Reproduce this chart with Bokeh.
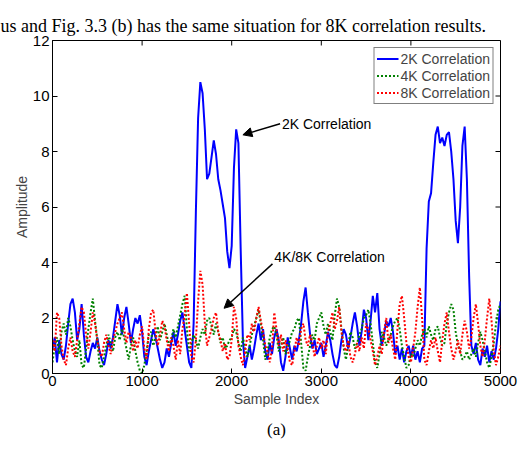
from bokeh.plotting import figure
from bokeh.models import (Title, Legend, LegendItem, Arrow, NormalHead,
                          Label, FixedTicker)
from bokeh.embed import file_html
from bokeh.resources import INLINE

# ---------------- data ----------------
step = 25  # sample spacing of the series below
corr_2k = [
    0.9, 1.3, 0.4, 1.2, 0.7, 0.5, 1.0, 1.8, 2.5, 2.7, 2.2, 1.2, 1.6, 2.5, 1.4, 0.6, 0.4, 0.8, 1.1, 0.9,
    1.3, 0.8, 0.5, 0.3, 0.7, 1.2, 0.9, 1.3, 1.9, 2.5, 2.1, 1.4, 2.0, 2.4, 1.8, 1.1, 1.6, 2.0, 1.8, 2.1,
    1.5, 0.6, 0.3, 0.8, 1.2, 1.6, 1.3, 0.9, 0.5, 0.2, 0.4, 0.9, 0.6, 1.1, 1.5, 1.0, 1.4, 1.9, 2.2, 1.6,
    1.0, 0.4, 0.2, 1.8, 5.8, 9.2, 10.5, 10.1, 8.8, 7.0, 7.2, 7.8, 8.4, 7.9, 7.0, 6.6, 6.1, 5.6, 4.4, 3.8,
    4.6, 7.4, 8.8, 8.3, 4.5, 1.2, 0.2, 0.6, 1.0, 0.5, 0.9, 1.4, 1.8, 1.2, 1.6, 0.8, 0.5, 1.1, 0.7, 1.3,
    1.6, 1.2, 0.4, 0.1, 0.6, 1.3, 0.9, 0.5, 1.0, 0.8, 1.2, 1.8, 2.6, 3.1, 2.2, 1.4, 0.9, 1.2, 0.7, 0.9,
    1.1, 0.6, 1.0, 1.5, 1.2, 0.7, 0.3, 0.2, 0.6, 1.2, 1.6, 1.4, 0.9, 1.3, 1.8, 2.2, 1.7, 1.0, 1.5, 2.3,
    2.0, 1.2, 1.9, 2.8, 2.2, 2.9, 1.6, 1.0, 1.4, 1.9, 1.7, 2.0, 1.5, 0.7, 1.0, 0.5, 0.9, 0.4, 0.8, 1.0,
    0.6, 1.0, 0.5, 0.8, 0.4, 0.9, 1.0, 4.5, 6.2, 6.5, 7.6, 8.6, 8.9, 8.3, 8.5, 8.2, 8.6, 8.7, 8.0, 7.0,
    5.5, 4.7, 6.0, 8.2, 8.9, 7.0, 3.5, 1.0, 0.7, 1.1, 0.5, 0.3, 0.9, 0.6, 1.0, 0.4, 0.8, 0.5, 0.9, 1.6, 2.6,
]
corr_4k = [
    0.4, 1.0, 1.3, 0.7, 1.5, 1.8, 1.4, 2.0, 1.7, 1.2, 0.8, 0.6, 1.2, 0.3, 0.2, 0.9, 1.6, 2.2, 2.7, 1.9,
    1.2, 0.3, 0.2, 0.6, 1.0, 1.4, 1.1, 0.8, 1.3, 1.5, 1.2, 1.6, 1.3, 0.9, 0.5, 1.0, 1.3, 0.8, 0.4, 0.1,
    0.0, 0.3, 0.8, 1.4, 1.5, 1.0, 1.3, 1.7, 1.2, 1.5, 1.8, 1.4, 1.0, 1.2, 1.6, 1.3, 1.7, 2.1, 2.5, 2.8,
    1.6, 0.8, 1.1, 1.4, 1.2, 0.9, 1.3, 1.6, 1.4, 1.9, 2.0, 1.7, 1.4, 1.8, 1.5, 1.1, 1.3, 0.9, 1.0, 1.2,
    1.3, 1.6, 1.5, 1.1, 0.8, 1.3, 0.9, 0.6, 1.0, 1.4, 1.7, 2.0, 2.3, 1.8, 1.2, 0.5, 0.8, 1.3, 1.6, 1.7,
    1.4, 0.8, 1.0, 1.3, 0.7, 0.9, 1.2, 1.5, 1.6, 1.9, 2.0, 1.1, 0.2, 0.1, 0.6, 1.0, 1.4, 1.2, 1.8, 2.0,
    2.2, 1.7, 1.4, 1.8, 1.5, 1.2, 2.1, 2.7, 2.4, 1.6, 0.9, 0.5, 1.0, 1.5, 1.3, 0.9, 1.1, 1.4, 1.6, 2.0,
    2.1, 2.3, 1.8, 1.1, 0.4, 0.2, 0.7, 1.5, 1.3, 1.0, 1.2, 1.4, 1.7, 1.9, 2.0, 1.6, 1.0, 0.6, 0.2, 0.3,
    0.7, 0.6, 0.9, 1.2, 1.0, 1.4, 1.6, 1.3, 1.7, 1.4, 1.2, 1.6, 1.7, 1.3, 1.0, 1.1, 1.8, 2.2, 2.5, 2.3,
    1.5, 1.0, 0.8, 0.5, 0.6, 0.8, 0.5, 0.7, 0.9, 0.6, 1.1, 1.5, 1.2, 0.8, 0.4, 0.2, 0.6, 1.1, 1.8, 2.3, 2.5,
]
corr_8k = [
    1.2, 0.8, 2.2, 2.0, 1.0, 0.5, 0.3, 0.9, 1.3, 0.8, 0.6, 1.2, 1.8, 2.4, 2.2, 1.4, 0.9, 1.5, 2.2, 1.8,
    1.2, 0.8, 0.6, 1.1, 1.4, 1.0, 0.7, 1.2, 1.5, 1.8, 2.0, 2.2, 1.6, 1.1, 1.5, 1.3, 0.8, 1.2, 0.9, 1.4,
    1.7, 0.9, 0.5, 1.6, 2.2, 2.3, 1.5, 1.0, 1.4, 1.9, 1.7, 1.2, 0.8, 1.3, 1.0, 0.5, 1.2, 0.7, 1.6, 2.1,
    2.9, 1.8, 0.6, 0.4, 1.2, 2.6, 3.7, 3.2, 1.8, 1.0, 1.3, 1.6, 2.0, 2.2, 1.5, 1.2, 0.8, 1.1, 0.5, 0.6,
    1.2, 2.4, 2.0, 1.0, 0.6, 0.3, 0.8, 1.4, 1.2, 1.8, 1.5, 2.0, 2.4, 1.9, 1.5, 1.0, 0.8, 0.4, 0.9, 2.2,
    1.6, 1.0, 1.4, 0.8, 1.2, 0.9, 0.4, 0.3, 0.8, 1.3, 1.0, 1.6, 1.8, 1.2, 1.0, 1.4, 1.1, 0.6, 1.0, 1.3,
    0.9, 1.2, 0.7, 1.5, 1.8, 2.2, 1.6, 1.9, 2.4, 1.5, 1.0, 0.8, 1.2, 0.6, 0.4, 0.7, 1.1, 0.8, 1.3, 0.9,
    1.8, 1.6, 1.2, 0.8, 0.3, 0.6, 1.0, 0.7, 1.5, 2.0, 1.1, 1.4, 0.9, 0.5, 1.6, 2.5, 2.8, 2.0, 1.1, 0.6,
    0.4, 0.9, 1.5, 2.4, 3.1, 2.0, 0.5, 0.3, 0.8, 1.2, 0.9, 1.3, 0.8, 0.4, 1.2, 1.8, 2.2, 1.5, 0.9, 0.5,
    0.8, 1.2, 0.7, 1.4, 1.9, 1.5, 0.9, 1.3, 2.0, 2.5, 1.8, 1.0, 0.6, 1.2, 2.0, 2.7, 1.9, 0.8, 0.3, 0.6, 1.0,
]
sample_index = [i * step for i in range(len(corr_2k))]
series_names = ["2K Correlation", "4K Correlation", "8K Correlation"]
x_ticks = [0, 1000, 2000, 3000, 4000, 5000]
y_ticks = [0, 2, 4, 6, 8, 10, 12]
x_min, x_max = 0, 5000
y_min, y_max = 0, 12

FONT = "Liberation Sans"

p = figure(width=521, height=452, x_range=(x_min, x_max), y_range=(y_min, y_max),
           output_backend="svg", toolbar_location=None,
           min_border_left=52, min_border_right=21, min_border_top=40, min_border_bottom=79)
p.background_fill_color = "white"
p.border_fill_color = "white"
p.outline_line_color = "black"
p.grid.visible = False

def style_axis(ax, ticks):
    ax.ticker = FixedTicker(ticks=ticks)
    ax.major_tick_in = 5
    ax.major_tick_out = 0
    ax.minor_tick_in = 0
    ax.minor_tick_out = 0
    ax.axis_line_color = "black"
    ax.major_tick_line_color = "black"
    ax.major_label_text_font = FONT
    ax.major_label_text_color = "black"
    ax.major_label_text_font_size = "15px"
    ax.axis_label_text_font = FONT
    ax.axis_label_text_font_style = "normal"
    ax.axis_label_text_font_size = "14px"

style_axis(p.xaxis[0], x_ticks)
style_axis(p.yaxis[0], y_ticks)
p.xaxis[0].axis_label = "Sample Index"
p.xaxis[0].axis_label_standoff = 2
p.xaxis[0].major_label_standoff = 2
p.yaxis[0].axis_label = "Amplitude"
p.yaxis[0].major_label_standoff = 3
p.yaxis[0].axis_label_standoff = 0

# mirrored inward ticks on the top and right edges (MATLAB box style)
tick_len_y = 5 / 27.75 * (y_max - y_min) / 12
tick_len_x = 5 / 89.4 * (x_max - x_min) / 5000 * 1000
p.segment(x0=x_ticks, y0=[y_max] * len(x_ticks), x1=x_ticks,
          y1=[y_max - tick_len_y] * len(x_ticks), line_color="black", line_width=1)
p.segment(x0=[x_max] * len(y_ticks), y0=y_ticks, x1=[x_max - tick_len_x] * len(y_ticks),
          y1=y_ticks, line_color="black", line_width=1)

r2 = p.line(sample_index, corr_2k, line_color="#0000ff", line_width=2)
r4 = p.line(sample_index, corr_4k, line_color="#008000", line_width=2, line_dash="2 2")
r8 = p.line(sample_index, corr_8k, line_color="#ff0000", line_width=2, line_dash="2 2")

legend = Legend(items=[LegendItem(label=series_names[0], renderers=[r2]),
                       LegendItem(label=series_names[1], renderers=[r4]),
                       LegendItem(label=series_names[2], renderers=[r8])],
                location="top_right")
legend.border_line_color = "black"
legend.border_line_width = 1
legend.label_text_font = FONT
legend.label_text_font_size = "14px"
legend.glyph_width = 22
legend.glyph_height = 17
legend.label_height = 17
legend.spacing = 0
legend.padding = 2
legend.margin = 7
legend.label_standoff = 2
legend.background_fill_alpha = 1
p.add_layout(legend)

# annotations
p.add_layout(Arrow(end=NormalHead(size=9, fill_color="black", line_color="black"),
                   x_start=2540, y_start=9.0, x_end=2125, y_end=8.6,
                   line_color="black", line_width=1.5))
p.add_layout(Label(x=2560, y=9.0, text="2K Correlation", text_font=FONT,
                   text_font_size="14px", text_baseline="middle", text_color="black"))
p.add_layout(Arrow(end=NormalHead(size=9, fill_color="black", line_color="black"),
                   x_start=2455, y_start=3.95, x_end=1915, y_end=2.35,
                   line_color="black", line_width=1.5))
p.add_layout(Label(x=2475, y=4.2, text="4K/8K Correlation", text_font=FONT,
                   text_font_size="14px", text_baseline="middle", text_color="black"))

top_text = Title(text="us and Fig. 3.3 (b) has the same situation for 8K correlation results.",
                 text_font="Liberation Serif", text_font_size="18px", text_font_style="normal",
                 align="left", offset=-52, text_color="black", standoff=10)
p.add_layout(top_text, "above")

cap = Title(text="(a)", text_font="Liberation Serif", text_font_size="17px",
            text_font_style="normal", align="center", text_color="black", standoff=16)
p.add_layout(cap, "below")

open("out.html", "w").write(file_html(p, INLINE))
